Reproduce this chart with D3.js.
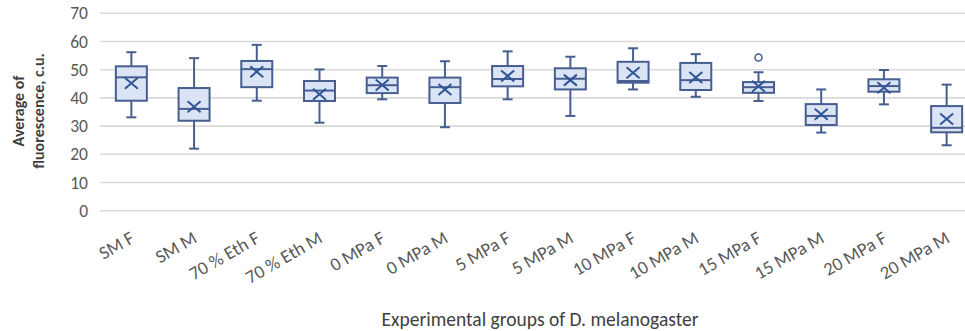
<!DOCTYPE html>
<html>
<head>
<meta charset="utf-8">
<script src="https://cdn.jsdelivr.net/npm/d3@7"></script>
<style>
  body { margin: 0; background: #fff; }
  text { font-family: Carlito, Calibri, Lato, "Open Sans", sans-serif; }
</style>
</head>
<body>
<div id="chart"></div>
<script>
"use strict";
const categories = ["SM F", "SM M", "70 % Eth F", "70 % Eth M", "0 MPa F", "0 MPa M", "5 MPa F",
  "5 MPa M", "10 MPa F", "10 MPa M", "15 MPa F", "15 MPa M", "20 MPa F", "20 MPa M"];
const whiskerLow = [33.1, 22.0, 39.0, 31.2, 39.5, 29.6, 39.5, 33.6, 43.0, 40.4, 38.9, 27.7, 37.7, 23.2];
const q1 = [39.0, 31.9, 43.8, 38.9, 41.7, 38.2, 44.1, 43.0, 45.4, 42.8, 41.8, 30.4, 42.2, 27.8];
const median = [47.3, 36.1, 50.2, 42.6, 44.5, 43.8, 46.7, 46.8, 46.0, 46.3, 43.8, 33.6, 44.2, 29.4];
const q3 = [51.2, 43.5, 53.1, 46.0, 47.2, 47.2, 51.3, 50.5, 52.8, 52.4, 45.6, 37.8, 46.6, 37.1];
const whiskerHigh = [56.2, 54.1, 58.8, 50.1, 51.3, 53.0, 56.5, 54.6, 57.6, 55.5, 49.1, 43.0, 49.9, 44.7];
const means = [45.2, 36.9, 49.3, 41.3, 44.6, 43.0, 47.8, 46.3, 48.9, 47.2, 44.1, 34.2, 43.6, 32.5];
const outliers = [[], [], [], [], [], [], [], [], [], [], [54.3], [], [], []];
const yTicks = [0, 10, 20, 30, 40, 50, 60, 70];

const width = 965, height = 331;
const svg = d3.select("#chart").append("svg")
  .attr("width", width).attr("height", height);

const x = d3.scaleBand().domain(categories).range([100, 978]);
const y = d3.scaleLinear().domain([0, 70]).range([210.7, 13.3]);

const boxStroke = "#475e90";
const boxFill = "#dae4f4";
const markColor = "#2f5597";
const labelFont = "Carlito, Calibri, Lato, sans-serif";

// gridlines
svg.append("g")
  .selectAll("line")
  .data(yTicks)
  .enter()
  .append("line")
  .attr("x1", 100).attr("x2", width)
  .attr("y1", d => y(d)).attr("y2", d => y(d))
  .attr("stroke", "#d9d9d9")
  .attr("stroke-width", 1.6);

// y axis labels
const yAxis = d3.axisLeft(y).tickValues(yTicks).tickSize(0).tickPadding(0);
const yg = svg.append("g").attr("transform", "translate(88,0)").call(yAxis);
yg.select(".domain").remove();
yg.selectAll("text")
  .attr("font-size", 17.5)
  .attr("fill", "#595959")
  .style("font-family", labelFont);

// x axis labels
const xAxis = d3.axisBottom(x).tickSize(0).tickPadding(0);
const xg = svg.append("g").attr("transform", "translate(0,236)").call(xAxis);
xg.select(".domain").remove();
xg.selectAll("text")
  .attr("font-size", 18.5)
  .attr("fill", "#595959")
  .attr("text-anchor", "end")
  .attr("dy", "0.35em")
  .attr("transform", "translate(1,0) rotate(-30)")
  .style("font-family", labelFont);

// boxes
const bw = 31;
const capW = 10;
const groups = svg.append("g")
  .selectAll("g")
  .data(categories)
  .enter()
  .append("g")
  .attr("transform", d => `translate(${x(d) + x.bandwidth() / 2},0)`);

groups.append("line")
  .attr("x1", 0).attr("x2", 0)
  .attr("y1", (d, i) => y(whiskerHigh[i])).attr("y2", (d, i) => y(q3[i]))
  .attr("stroke", boxStroke).attr("stroke-width", 2);
groups.append("line")
  .attr("x1", 0).attr("x2", 0)
  .attr("y1", (d, i) => y(q1[i])).attr("y2", (d, i) => y(whiskerLow[i]))
  .attr("stroke", boxStroke).attr("stroke-width", 2);
groups.append("line")
  .attr("x1", -capW / 2).attr("x2", capW / 2)
  .attr("y1", (d, i) => y(whiskerHigh[i])).attr("y2", (d, i) => y(whiskerHigh[i]))
  .attr("stroke", boxStroke).attr("stroke-width", 2);
groups.append("line")
  .attr("x1", -capW / 2).attr("x2", capW / 2)
  .attr("y1", (d, i) => y(whiskerLow[i])).attr("y2", (d, i) => y(whiskerLow[i]))
  .attr("stroke", boxStroke).attr("stroke-width", 2);
groups.append("rect")
  .attr("x", -bw / 2).attr("width", bw)
  .attr("y", (d, i) => y(q3[i]))
  .attr("height", (d, i) => y(q1[i]) - y(q3[i]))
  .attr("fill", boxFill)
  .attr("stroke", boxStroke).attr("stroke-width", 2);
groups.append("line")
  .attr("x1", -bw / 2).attr("x2", bw / 2)
  .attr("y1", (d, i) => y(median[i])).attr("y2", (d, i) => y(median[i]))
  .attr("stroke", boxStroke).attr("stroke-width", 2);

// mean markers (X)
const mx = 6.5, my = 5.5;
groups.append("path")
  .attr("d", (d, i) => {
    const cy = y(means[i]);
    return `M${-mx},${cy - my}L${mx},${cy + my}M${-mx},${cy + my}L${mx},${cy - my}`;
  })
  .attr("stroke", markColor).attr("stroke-width", 2).attr("fill", "none");

// outliers
groups.each(function (d, i) {
  d3.select(this).selectAll("circle")
    .data(outliers[i])
    .enter()
    .append("circle")
    .attr("cx", 0)
    .attr("cy", v => y(v))
    .attr("r", 3.5)
    .attr("fill", "#fff")
    .attr("stroke", boxStroke)
    .attr("stroke-width", 1.5);
});

// axis titles
svg.append("text")
  .attr("transform", "translate(24,111) rotate(-90)")
  .attr("text-anchor", "middle")
  .attr("font-size", 16)
  .attr("font-weight", "bold")
  .attr("fill", "#404040")
  .text("Average of");
svg.append("text")
  .attr("transform", "translate(43.5,111) rotate(-90)")
  .attr("text-anchor", "middle")
  .attr("font-size", 16)
  .attr("font-weight", "bold")
  .attr("fill", "#404040")
  .text("fluorescence, c.u.");

svg.append("text")
  .attr("x", 540).attr("y", 326)
  .attr("text-anchor", "middle")
  .attr("font-size", 19.5)
  .attr("fill", "#404040")
  .text("Experimental groups of D. melanogaster");
</script>
</body>
</html>
